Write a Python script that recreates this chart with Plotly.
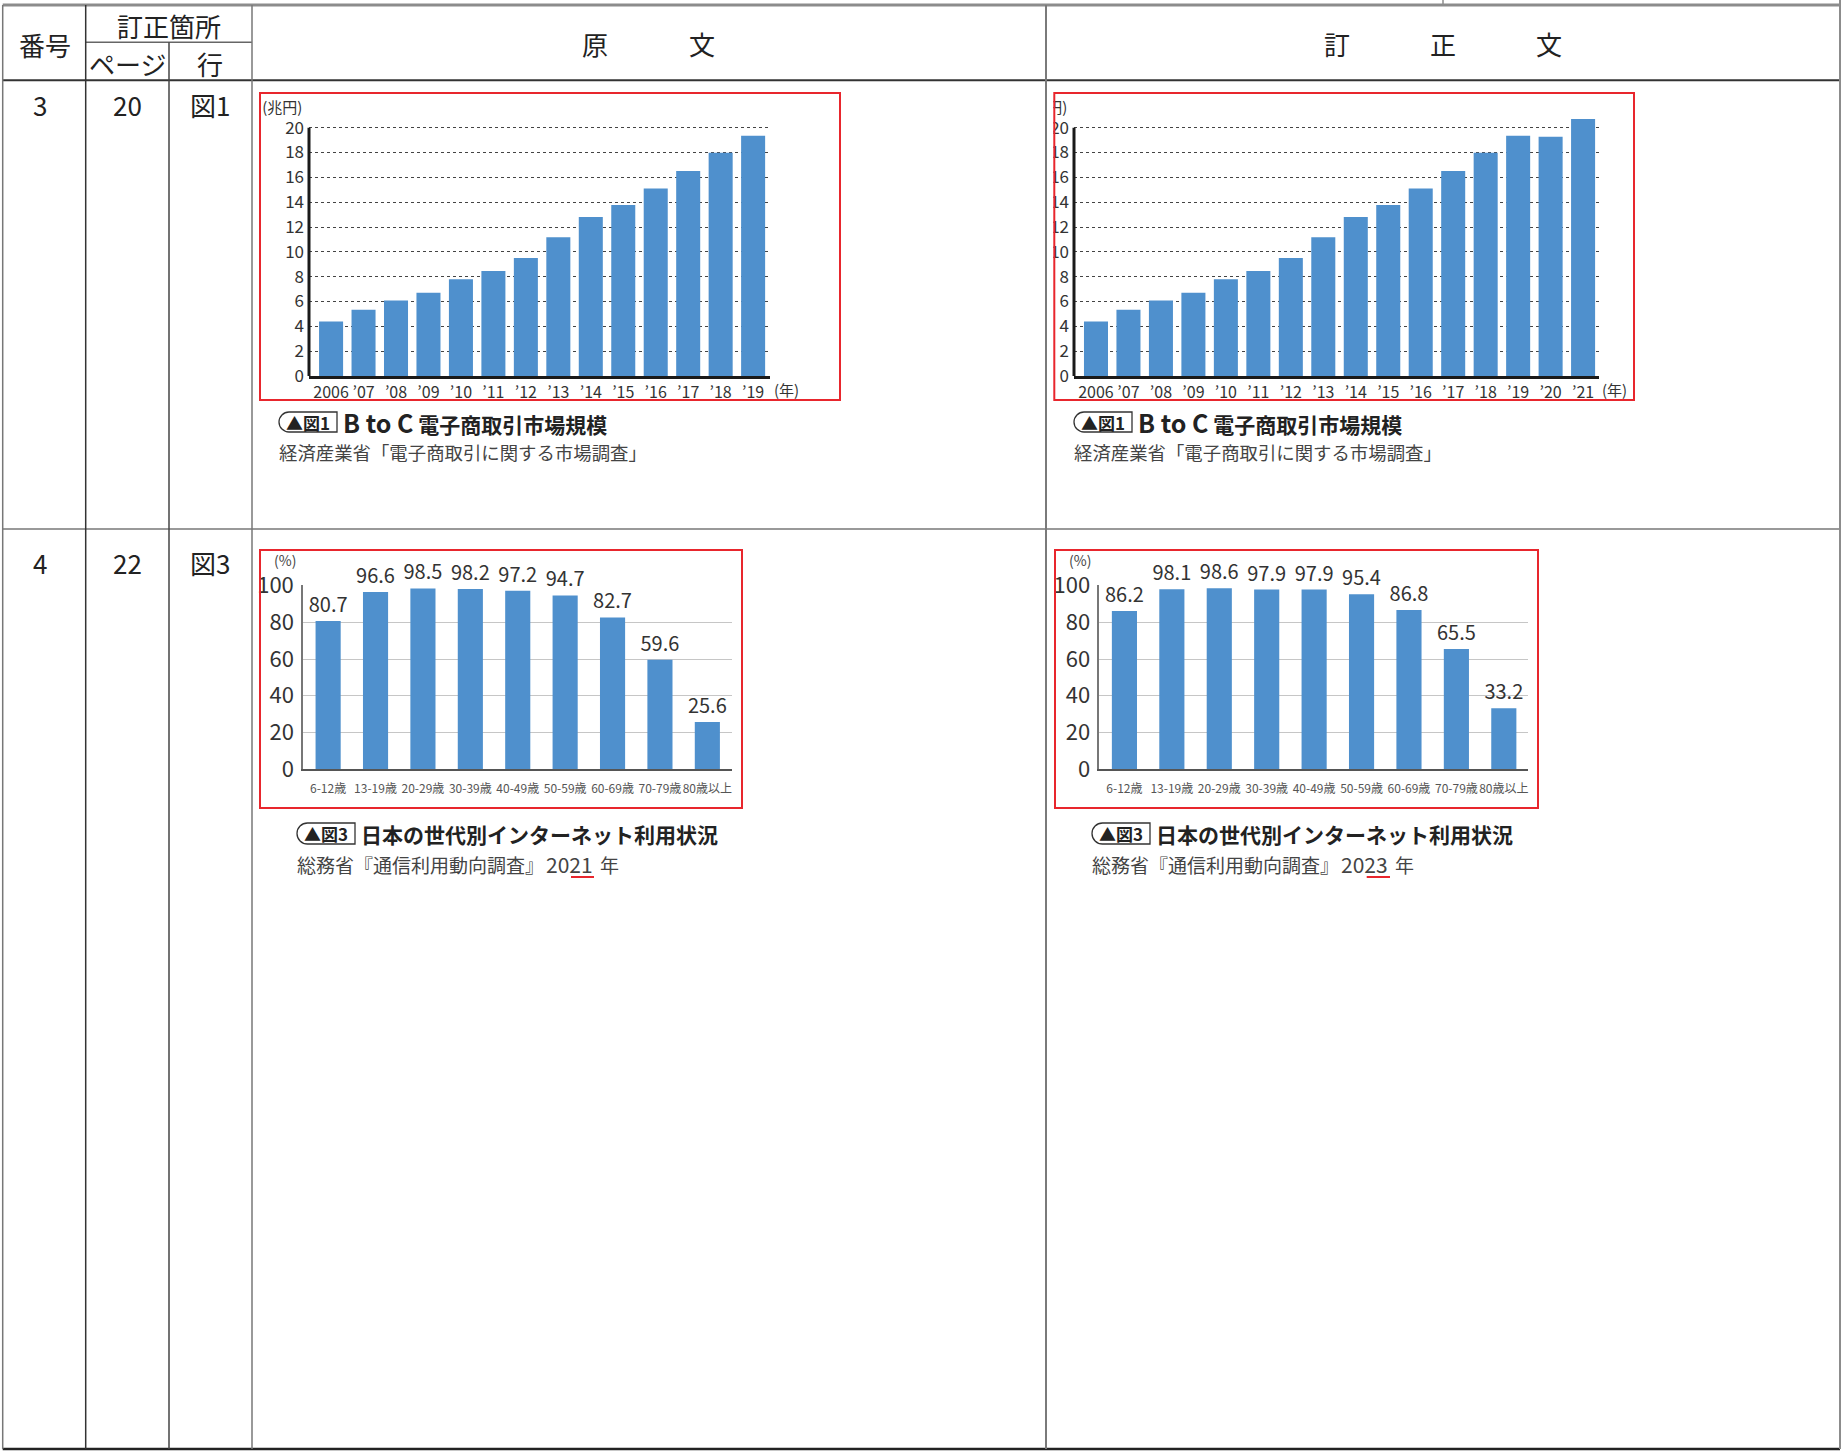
import plotly.graph_objects as go

W, H = 1844, 1456
NB = "\u00a0"


def fx(x):
    return x / W


def fy(y):
    return 1 - y / H


# ---------------- data ----------------
years_2019 = ["2006", "’07", "’08", "’09", "’10", "’11", "’12", "’13",
              "’14", "’15", "’16", "’17", "’18", "’19"]
ec_2019 = [4.39, 5.34, 6.09, 6.70, 7.79, 8.46, 9.51, 11.17,
           12.80, 13.78, 15.11, 16.51, 17.98, 19.36]
years_2021 = ["2006", "’07", "’08", "’09", "’10", "’11", "’12", "’13",
              "’14", "’15", "’16", "’17", "’18", "’19", "’20", "’21"]
ec_2021 = [4.39, 5.34, 6.09, 6.70, 7.79, 8.46, 9.51, 11.17,
           12.80, 13.78, 15.11, 16.51, 17.98, 19.36, 19.28, 20.70]
ec_ticks = [0, 2, 4, 6, 8, 10, 12, 14, 16, 18, 20]

age_groups = ["6-12歳", "13-19歳", "20-29歳", "30-39歳", "40-49歳",
              "50-59歳", "60-69歳", "70-79歳", "80歳以上"]
net_2021 = [80.7, 96.6, 98.5, 98.2, 97.2, 94.7, 82.7, 59.6, 25.6]
net_2023 = [86.2, 98.1, 98.6, 97.9, 97.9, 95.4, 86.8, 65.5, 33.2]
pct_ticks = [0, 20, 40, 60, 80, 100]

BLUE = "#4F90CD"
RED = "#E8262D"
FONT = "Noto Sans CJK JP"

fig = go.Figure()

# ---------------- EC market charts ----------------
EC_RANGES = {"": [-0.68, 13.52], "2": [-0.677, 15.49]}
EC_YMAX = 21.6
UNIT_PX = 12.415

for xs, ys, ax in [(years_2019, ec_2019, ""), (years_2021, ec_2021, "2")]:
    fig.add_trace(go.Bar(
        x=list(range(len(xs))), y=ys, xaxis="x" + ax, yaxis="y" + ax,
        width=0.74, marker=dict(color=BLUE, line=dict(width=0)),
        hoverinfo="skip"))

# unit labels drawn as text traces (so the right one is clipped by its frame)
for ax in ["", "2"]:
    fig.add_trace(go.Scatter(
        x=[EC_RANGES[ax][0] + 0.005], y=[(376 - 109) / UNIT_PX], mode="text",
        text=["(兆円)" + NB + NB], textposition="middle left", cliponaxis=False,
        textfont=dict(size=15, color="#333", family=FONT),
        xaxis="x" + ax, yaxis="y" + ax, hoverinfo="skip"))

# ---------------- internet usage charts ----------------
for ys, ax in [(net_2021, "3"), (net_2023, "4")]:
    fig.add_trace(go.Bar(
        x=list(range(len(age_groups))), y=ys, xaxis="x" + ax, yaxis="y" + ax,
        width=0.53, marker=dict(color=BLUE, line=dict(width=0)),
        text=ys, texttemplate="%{y:.1f}", textposition="outside",
        constraintext="none", cliponaxis=False,
        textfont=dict(size=20, color="#333", family=FONT),
        hoverinfo="skip"))

ec_top_px = 376 - EC_YMAX * UNIT_PX


def ec_xaxis(left, right, labels, rng):
    return dict(domain=[fx(left), fx(right)], range=rng, automargin=False,
                tickvals=list(range(len(labels))), ticktext=labels, tickangle=0,
                tickfont=dict(size=16, color="#333", family=FONT),
                showline=True, linecolor="#1a1a1a", linewidth=3,
                showgrid=False, zeroline=False, ticks="", ticklabelstandoff=0,
                fixedrange=True)


def ec_yaxis(anchor):
    return dict(domain=[fy(376), fy(ec_top_px)], range=[0, EC_YMAX], anchor=anchor,
                automargin=False,
                tickvals=ec_ticks, tickfont=dict(size=17, color="#333", family=FONT),
                showgrid=True, gridcolor="#444", gridwidth=1, griddash="3px,3px",
                showline=False, zeroline=False, ticks="", ticklabelstandoff=4,
                fixedrange=True)


def net_xaxis(left, right, rng):
    return dict(domain=[fx(left), fx(right)], range=rng, automargin=False,
                tickvals=list(range(len(age_groups))), ticktext=age_groups,
                tickangle=0,
                tickfont=dict(size=12, color="#555", family=FONT),
                showline=True, linecolor="#555", linewidth=2,
                showgrid=False, zeroline=False, ticks="", ticklabelstandoff=8,
                fixedrange=True)


def net_yaxis(anchor):
    return dict(domain=[fy(769), fy(769 - 100.5 * 1.833)], range=[0, 100.5],
                anchor=anchor, automargin=False, tickvals=pct_ticks,
                tickfont=dict(size=22, color="#333", family=FONT),
                showgrid=True, gridcolor="#c6c6c6", gridwidth=1.2,
                showline=True, linecolor="#777", linewidth=1.5,
                zeroline=False, ticks="", ticklabelstandoff=3, fixedrange=True)


# ---------------- shapes ----------------
shapes = []


def hline(y, x0, x1, color, width):
    shapes.append(dict(type="line", xref="paper", yref="paper",
                       x0=fx(x0), x1=fx(x1), y0=fy(y), y1=fy(y),
                       line=dict(color=color, width=width)))


def vline(x, y0, y1, color, width):
    shapes.append(dict(type="line", xref="paper", yref="paper",
                       x0=fx(x), x1=fx(x), y0=fy(y0), y1=fy(y1),
                       line=dict(color=color, width=width)))


def rect(x0, y0, x1, y1, color, width, fill=None):
    d = dict(type="rect", xref="paper", yref="paper",
             x0=fx(x0), x1=fx(x1), y0=fy(y1), y1=fy(y0),
             line=dict(color=color, width=width))
    if fill:
        d["fillcolor"] = fill
    shapes.append(d)


def caption_box(x0, y0, x1, y1):
    r = (y1 - y0) / 2
    ym = (y0 + y1) / 2
    k = 0.552 * r
    pts = [
        ("M", [(x0 + r, y0)]),
        ("L", [(x1, y0)]),
        ("L", [(x1, y1)]),
        ("L", [(x0 + r, y1)]),
        ("C", [(x0 + r - k, y1), (x0, ym + k), (x0, ym)]),
        ("C", [(x0, ym - k), (x0 + r - k, y0), (x0 + r, y0)]),
    ]
    path = ""
    for cmd, ps in pts:
        path += cmd + " ".join(f"{fx(a):.6f},{fy(b):.6f}" for a, b in ps) + " "
    path += "Z"
    shapes.append(dict(type="path", xref="paper", yref="paper", path=path,
                       line=dict(color="#333", width=1.3)))


# white mask that clips the right chart's labels at its frame
rect(990, 86, 1053.4, 399, "rgba(0,0,0,0)", 0, fill="white")

# table
hline(5, 2.7, 1840, "#8c8c8c", 3)
vline(1443, 0, 5, "#8c8c8c", 1.5)
hline(80.3, 2.7, 1840, "#333", 2)
hline(42.3, 85.7, 252, "#666", 1.5)
hline(529, 2.7, 1840, "#777", 1.5)
hline(1449, 2.7, 1840, "#222", 2.5)
vline(2.7, 5, 1449, "#777", 1.5)
vline(85.7, 5, 1449, "#333", 1.5)
vline(169, 42.3, 1449, "#444", 1.5)
vline(252, 5, 1449, "#777", 1.5)
vline(1046, 5, 1449, "#7a7a7a", 2)
vline(1840, 0, 1449, "#8c8c8c", 2)

# red frames
rect(260, 93, 840, 400, RED, 2)
rect(1054.3, 93, 1634, 400, RED, 2)
rect(260, 550, 742, 808, RED, 2)
rect(1055, 550, 1538, 808, RED, 2)

# y axis lines of EC charts (up to 20)
for ax in ["", "2"]:
    shapes.append(dict(type="line", xref=("x" + ax + " domain"), yref="y" + ax,
                       x0=0, x1=0, y0=0, y1=20,
                       line=dict(color="#1a1a1a", width=3)))

# caption boxes
caption_box(279, 412, 337, 432)
caption_box(1074, 412, 1132, 432)
caption_box(297, 823, 355, 844)
caption_box(1092, 823, 1150, 844)

# red underlines under changed digits
hline(877, 571, 594, RED, 2)
hline(877, 1366.7, 1390, RED, 2)

# ---------------- annotations ----------------
annotations = []


def text(x, y, s, size, color="#222", xanchor="center", bold=False):
    if bold:
        s = "<b>" + s + "</b>"
    annotations.append(dict(x=fx(x), y=fy(y), xref="paper", yref="paper",
                            text=s, showarrow=False, xanchor=xanchor,
                            yanchor="middle",
                            font=dict(size=size, color=color, family=FONT)))


# header
text(45, 44.5, "番号", 26)
text(169, 25, "訂正箇所", 26)
text(127, 64, "ページ", 26)
text(209.5, 64, "行", 26)
text(595, 43, "原", 26)
text(702, 43, "文", 26)
text(1337, 43, "訂", 26)
text(1443, 43, "正", 26)
text(1549, 43, "文", 26)

# row labels
text(40, 105, "3", 26)
text(127, 105, "20", 26)
text(209.5, 105, "図1", 26)
text(40, 562, "4", 26)
text(127, 562, "22", 26)
text(209.5, 562, "図3", 26)

# axis end labels
text(786, 390, "(年)", 15, color="#333")
text(1614, 390, "(年)", 15, color="#333")
text(285, 560, "(%)", 14, color="#444")
text(1080, 560, "(%)", 14, color="#444")

# captions for figure 1
for dx in [0, 795]:
    text(308 + dx, 422, "▲図1", 17, bold=True)
    text(341 + dx, 422,
         '<span style="font-size:25px">B to C</span> 電子商取引市場規模', 21,
         xanchor="left", bold=True)
    text(277 + dx, 452, "経済産業省「電子商取引に関する市場調査」", 18.4,
         color="#444", xanchor="left")

# captions for figure 3
for dx, yr in [(0, "2021"), (795, "2023")]:
    text(326 + dx, 833.5, "▲図3", 17, bold=True)
    text(359 + dx, 834, "日本の世代別インターネット利用状況", 21, xanchor="left", bold=True)
    text(295 + dx, 864, "総務省『通信利用動向調査』", 19, color="#444", xanchor="left")
    text(569.2 + dx, 864, yr, 21, color="#444")
    text(609.5 + dx, 864, "年", 19, color="#444")

fig.update_layout(
    width=W, height=H,
    margin=dict(l=0, r=0, t=0, b=0, pad=0, autoexpand=False),
    paper_bgcolor="white", plot_bgcolor="rgba(0,0,0,0)",
    showlegend=False,
    font=dict(family=FONT, color="#222"),
    xaxis=ec_xaxis(309, 770, years_2019, EC_RANGES[""]),
    yaxis=ec_yaxis("x"),
    xaxis2=dict(ec_xaxis(1074, 1599, years_2021, EC_RANGES["2"]), anchor="y2"),
    yaxis2=ec_yaxis("x2"),
    xaxis3=dict(net_xaxis(303, 732, [-0.53, 8.52]), anchor="y3"),
    yaxis3=net_yaxis("x3"),
    xaxis4=dict(net_xaxis(1099.3, 1528, [-0.53, 8.51]), anchor="y4"),
    yaxis4=net_yaxis("x4"),
    shapes=shapes,
    annotations=annotations,
)

fig.write_html("out.html")
